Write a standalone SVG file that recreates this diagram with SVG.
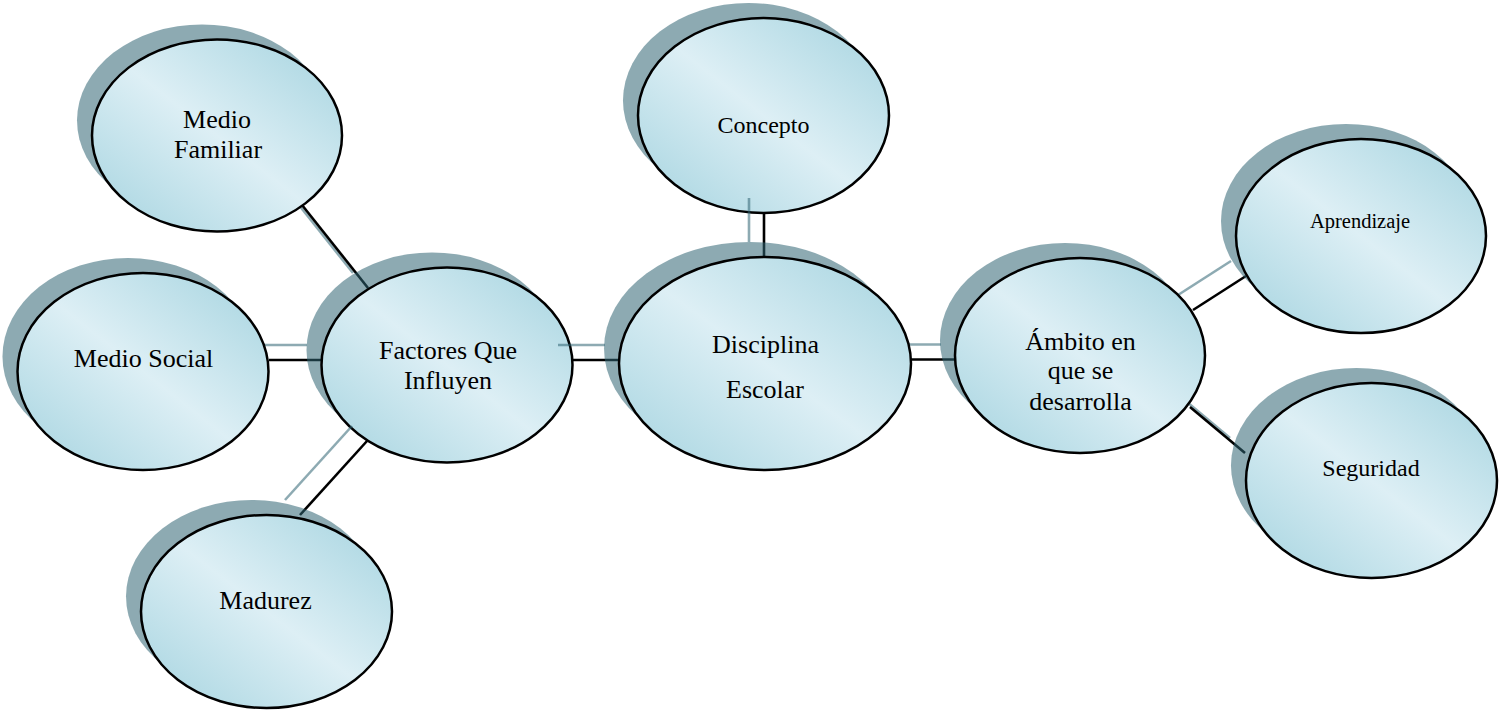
<svg xmlns="http://www.w3.org/2000/svg" width="1499" height="712" viewBox="0 0 1499 712">
<defs>
<linearGradient id="fill" x1="0" y1="1" x2="1" y2="0">
<stop offset="0" stop-color="#A4D3DF"/>
<stop offset="0.5" stop-color="#DDEFF5"/>
<stop offset="1" stop-color="#A4D3DF"/>
</linearGradient>
<style>
.shadow{fill:#2F6573;fill-opacity:0.55;stroke:none}
.node{fill:url(#fill);stroke:#000;stroke-width:2.5}
.line{stroke:#000;stroke-width:2.6;fill:none}
.lshadow{stroke:#2F6573;stroke-opacity:0.55;stroke-width:2.6;fill:none}
text{font-family:"Liberation Serif","Times New Roman",serif;fill:#000;text-anchor:middle}
.t{font-size:26px}
.m{font-size:24px}
.s{font-size:20.5px}
</style>
</defs>
<rect width="1499" height="712" fill="#fff"/>
<g id="connectors">
<g id="c-familiar"><line class="lshadow" x1="287" y1="190" x2="353" y2="273"/><line class="line" x1="302" y1="205" x2="368" y2="288"/></g>
<g id="c-social"><line class="lshadow" x1="254" y1="345" x2="307" y2="345"/><line class="line" x1="269" y1="360" x2="322" y2="360"/></g>
<g id="c-ambito"><line class="lshadow" x1="896" y1="344.5" x2="941" y2="344.5"/><line class="line" x1="911" y1="359.5" x2="956" y2="359.5"/></g>
<g id="c-aprendizaje"><line class="lshadow" x1="1178" y1="295" x2="1231" y2="261"/><line class="line" x1="1193" y1="310" x2="1246" y2="276"/></g>
<g id="c-seguridad"><line class="lshadow" x1="1175" y1="392" x2="1230" y2="438"/><line class="line" x1="1190" y1="407" x2="1245" y2="453"/></g>
</g>
<g id="n-familiar"><ellipse class="shadow" cx="202" cy="120.5" rx="125" ry="96"/><ellipse class="node" cx="217" cy="135.5" rx="125" ry="96"/><text class="t" x="217" y="128">Medio</text><text class="t" x="218" y="158">Familiar</text></g>
<g id="n-social"><ellipse class="shadow" cx="128" cy="356.5" rx="125.5" ry="98.5"/><ellipse class="node" cx="143" cy="371.5" rx="125.5" ry="98.5"/><text class="t" x="143.5" y="367">Medio Social</text></g>
<g id="n-factores"><ellipse class="shadow" cx="432" cy="350" rx="125.5" ry="97.5"/><ellipse class="node" cx="447" cy="365" rx="125.5" ry="97.5"/><text class="t" x="448" y="359">Factores Que</text><text class="t" x="448" y="389">Influyen</text></g>
<g id="n-concepto"><ellipse class="shadow" cx="748.5" cy="100.5" rx="125.5" ry="97.5"/><ellipse class="node" cx="763.5" cy="115.5" rx="125.5" ry="97.5"/><text class="m" x="763.5" y="133">Concepto</text></g>
<g id="n-ambito"><ellipse class="shadow" cx="1065" cy="340.5" rx="125" ry="97.5"/><ellipse class="node" cx="1080" cy="355.5" rx="125" ry="97.5"/><text class="t" x="1080.5" y="350">Ámbito en</text><text class="t" x="1080.5" y="379">que se</text><text class="t" x="1080.5" y="410">desarrolla</text></g>
<g id="n-aprendizaje"><ellipse class="shadow" cx="1346" cy="221" rx="125" ry="97"/><ellipse class="node" cx="1361" cy="236" rx="125" ry="97"/><text class="s" x="1360" y="228">Aprendizaje</text></g>
<g id="n-seguridad"><ellipse class="shadow" cx="1356.5" cy="465.5" rx="125.5" ry="97.5"/><ellipse class="node" cx="1371.5" cy="480.5" rx="125.5" ry="97.5"/><text class="m" x="1371" y="476">Seguridad</text></g>
<g id="connectors-over">
<g id="c-madurez"><line class="lshadow" x1="285" y1="500" x2="352" y2="426"/><line class="line" x1="300" y1="515" x2="367" y2="441"/></g>
<g id="c-disciplina"><line class="lshadow" x1="558" y1="345" x2="605" y2="345"/><line class="line" x1="573" y1="360" x2="620" y2="360"/></g>
<g id="c-concepto"><line class="lshadow" x1="749" y1="198" x2="749" y2="242"/><line class="line" x1="764" y1="213" x2="764" y2="257"/></g>
</g>
<g id="n-madurez"><ellipse class="shadow" cx="251.5" cy="596.5" rx="125.5" ry="96.5"/><ellipse class="node" cx="266.5" cy="611.5" rx="125.5" ry="96.5"/><text class="t" x="265.5" y="609">Madurez</text></g>
<g id="n-disciplina"><ellipse class="shadow" cx="750" cy="348.5" rx="146" ry="106.5"/><ellipse class="node" cx="765" cy="363.5" rx="146" ry="106.5"/><text class="t" x="765.5" y="353">Disciplina</text><text class="t" x="765" y="398">Escolar</text></g>
</svg>
